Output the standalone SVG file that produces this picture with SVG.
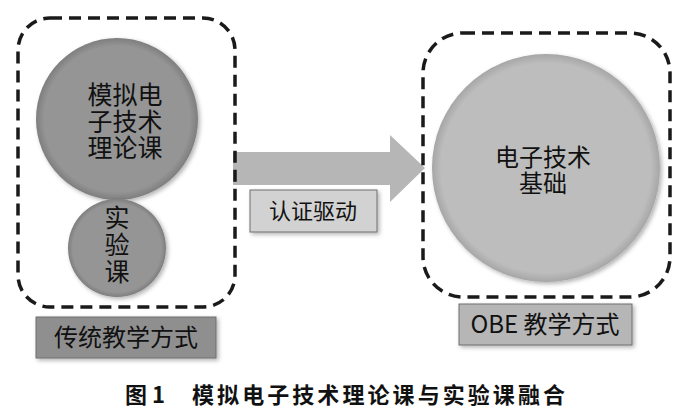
<svg xmlns="http://www.w3.org/2000/svg" width="700" height="417" viewBox="0 0 700 417">
<style>
.frame{fill:none;stroke:#1a1a1a;stroke-width:3.5;stroke-dasharray:12 7}
.t{font-family:"Noto Sans CJK SC","Noto Sans",sans-serif;fill:#111;text-anchor:middle}
.cap{font-family:"Noto Sans CJK SC","Noto Sans",sans-serif;fill:#111;font-weight:bold;font-size:22px}
.lbl{stroke:#6e6e6e;stroke-width:1}
</style>
<defs>
<radialGradient id="gDark" cx="0.5" cy="0.5" r="0.5">
<stop offset="0.9" stop-color="#959595"/>
<stop offset="1" stop-color="#7e7e7e"/>
</radialGradient>
<radialGradient id="gLight" cx="0.5" cy="0.5" r="0.5">
<stop offset="0.92" stop-color="#bdbdbd"/>
<stop offset="1" stop-color="#a6a6a6"/>
</radialGradient>
<filter id="sh" x="-10%" y="-10%" width="125%" height="125%">
<feGaussianBlur in="SourceAlpha" stdDeviation="2"/>
<feOffset dx="2" dy="2" result="b"/>
<feFlood flood-color="#000" flood-opacity="0.3"/>
<feComposite in2="b" operator="in"/>
<feMerge><feMergeNode/><feMergeNode in="SourceGraphic"/></feMerge>
</filter>
</defs>
<rect width="700" height="417" fill="#fff"/>

<g id="connectors">
<path d="M233,152 H390 V135 L425,168 L390,202 V185 H233 Z" fill="#b6b6b6"/>
</g>

<g id="traditional">
<rect class="frame" x="18" y="18" width="217" height="289" rx="32"/>
</g>
<g id="theory">
<circle cx="117" cy="119" r="81" fill="url(#gDark)" filter="url(#sh)"/>
<text class="t" x="125" y="104" font-size="25">模拟电<tspan x="125" dy="27">子技术</tspan><tspan x="125" dy="26">理论课</tspan></text>
</g>
<g id="lab">
<circle cx="117" cy="248" r="49" fill="url(#gDark)" filter="url(#sh)"/>
<text class="t" x="117" y="227" font-size="25">实<tspan x="117" dy="27">验</tspan><tspan x="117" dy="27">课</tspan></text>
</g>
<g id="label-traditional">
<rect class="lbl" x="36" y="317" width="180" height="41" fill="#8f8f8f" filter="url(#sh)"/>
<text class="t" x="126" y="346" font-size="24">传统教学方式</text>
</g>

<g id="label-drive">
<rect class="lbl" x="250" y="190" width="127" height="42" fill="#d2d2d2" filter="url(#sh)"/>
<text class="t" x="313" y="219" font-size="22">认证驱动</text>
</g>

<g id="obe">
<rect class="frame" x="423" y="33" width="247" height="264" rx="40"/>
</g>
<g id="electronics">
<circle cx="546" cy="168" r="114" fill="url(#gLight)" filter="url(#sh)"/>
<text class="t" x="543" y="166" font-size="24">电子技术<tspan x="543" dy="26">基础</tspan></text>
</g>
<g id="label-obe">
<rect class="lbl" x="459" y="304" width="173" height="41" fill="#b6b6b6" filter="url(#sh)"/>
<text class="t" x="545" y="333" font-size="24">OBE 教学方式</text>
</g>

<g id="caption">
<text class="cap" x="125" y="403" xml:space="preserve">图 1   <tspan x="192" textLength="373" lengthAdjust="spacing">模拟电子技术理论课与实验课融合</tspan></text>
</g>
</svg>
